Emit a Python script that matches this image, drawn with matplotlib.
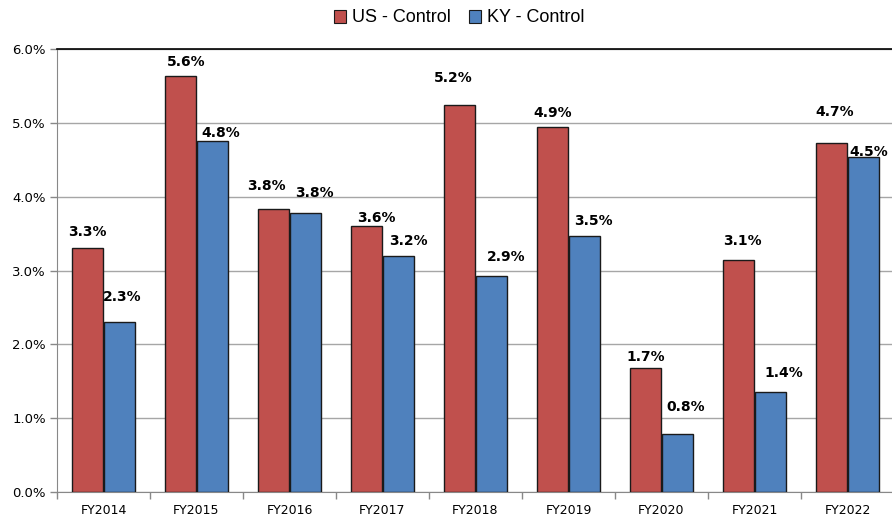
import matplotlib
matplotlib.use("Agg")
import matplotlib.pyplot as plt
import numpy as np
from matplotlib.ticker import FuncFormatter, MultipleLocator, FixedLocator
from matplotlib.patches import Patch

years = ["FY2014", "FY2015", "FY2016", "FY2017", "FY2018",
         "FY2019", "FY2020", "FY2021", "FY2022"]
us_control = [3.31, 5.64, 3.83, 3.60, 5.24, 4.94, 1.68, 3.14, 4.73]
ky_control = [2.30, 4.76, 3.78, 3.20, 2.93, 3.47, 0.78, 1.36, 4.54]
series_names = ["US - Control", "KY - Control"]

# label nudges (pixels) so the value tags sit where they read best
us_dx = [0, 6, -7, 10, -6, 0, 0, 4, 3]
us_dy = [16, 14, 23, 8, 27, 14, 11, 19, 31]
ky_dx = [3, 8, 9, 10, 15, 9, 8, 13, 5]
ky_dy = [25, 8, 20, 15, 19, 15, 27, 19, 5]

RED = "#C0504D"
BLUE = "#4F81BD"

fig = plt.figure(figsize=(8.92, 5.17), dpi=100)
W, H = 892, 517
left, right, top, bottom = 57, 894, 49, 492
ax = fig.add_axes([left / W, 1 - bottom / H, (right - left) / W, (bottom - top) / H])

x = np.arange(len(years))
bw = 0.333
off = 0.172
b1 = ax.bar(x - off, us_control, bw, color=RED, edgecolor="#1a1a1a", linewidth=1.0, zorder=3)
b2 = ax.bar(x + off, ky_control, bw, color=BLUE, edgecolor="#1a1a1a", linewidth=1.0, zorder=3)

label_font = dict(family="DejaVu Sans", size=10, weight="bold", color="black")
for xi, v, dx, dy in zip(x - off, us_control, us_dx, us_dy):
    ax.annotate(f"{v:.1f}%", (xi, v), xytext=(dx, dy), textcoords="offset pixels",
                ha="center", va="center", zorder=5, **label_font)
for xi, v, dx, dy in zip(x + off, ky_control, ky_dx, ky_dy):
    ax.annotate(f"{v:.1f}%", (xi, v), xytext=(dx, dy), textcoords="offset pixels",
                ha="center", va="center", zorder=5, **label_font)

ax.set_xlim(-0.5, len(years) - 0.5)
ax.set_ylim(0, 6)
ax.yaxis.set_major_locator(MultipleLocator(1))
ax.yaxis.set_major_formatter(FuncFormatter(lambda v, p: f"{v:.1f}%"))
ax.grid(axis="y", color="#A6A6A6", linewidth=1.0, zorder=0)
ax.set_axisbelow(True)

# category labels centered, tick marks at category boundaries
ax.set_xticks(x)
ax.set_xticklabels(years, fontsize=9, family="DejaVu Sans")
ax.tick_params(axis="x", which="major", length=0, pad=9)
ax.xaxis.set_minor_locator(FixedLocator(np.arange(-0.5, len(years), 1.0)))
ax.tick_params(axis="x", which="minor", length=5, color="#888888", width=1)
ax.tick_params(axis="y", length=5, color="#888888", width=1, labelsize=9.5, pad=3)
for lbl in ax.get_yticklabels():
    lbl.set_family("DejaVu Sans")

ax.spines["right"].set_visible(False)
ax.spines["top"].set_color("black")
ax.spines["top"].set_linewidth(1.2)
ax.spines["left"].set_color("#888888")
ax.spines["bottom"].set_color("#888888")

handles = [Patch(facecolor=RED, edgecolor="#1a1a1a", linewidth=0.8),
           Patch(facecolor=BLUE, edgecolor="#1a1a1a", linewidth=0.8)]
fig.legend(handles, series_names, loc="center", bbox_to_anchor=(459 / W, 1 - 18 / H),
           ncol=2, frameon=False, prop=dict(family="Liberation Sans", size=13),
           handlelength=0.7, handleheight=0.7, handletextpad=0.3, columnspacing=1.0)

fig.savefig("out.png", dpi=100)
